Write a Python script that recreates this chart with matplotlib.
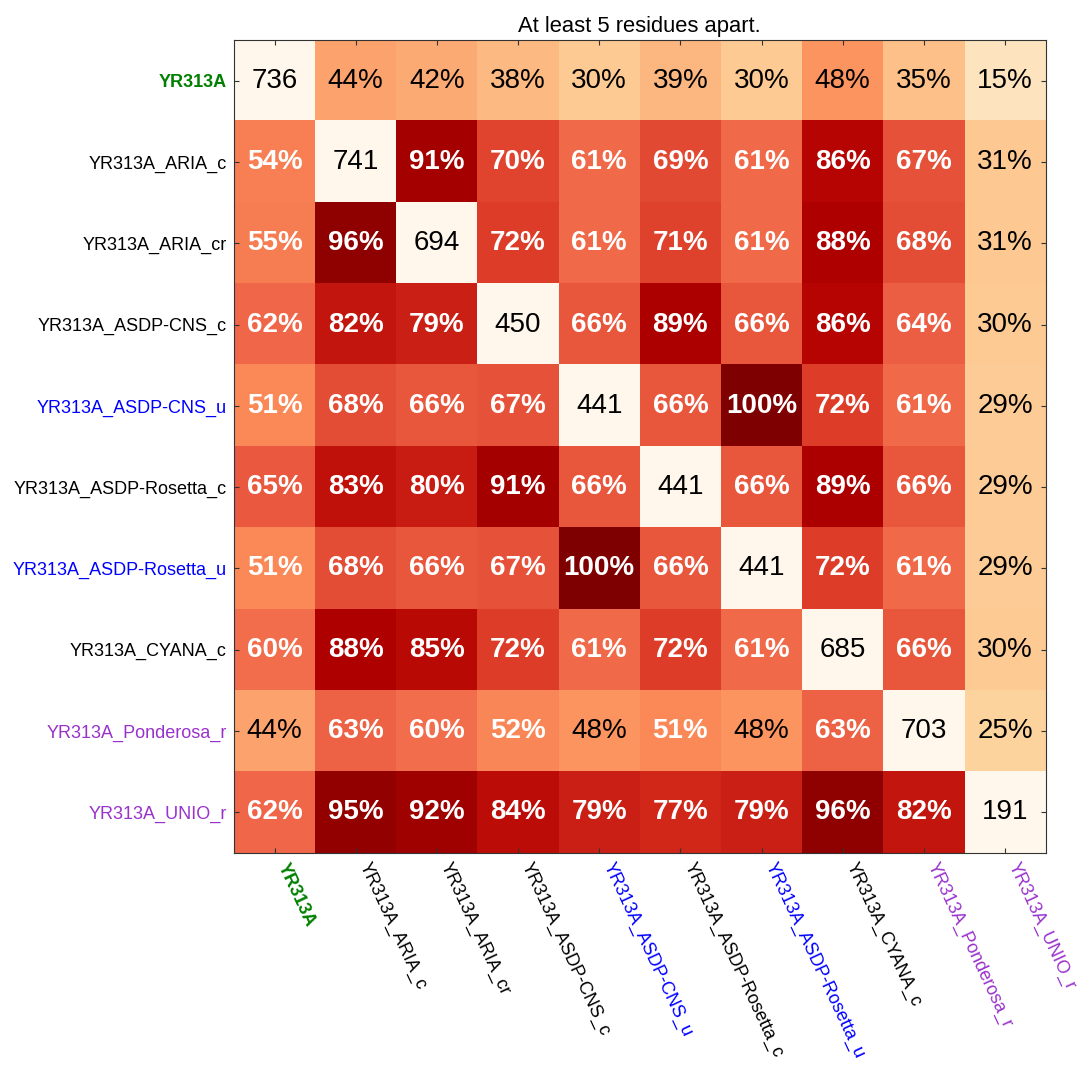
import matplotlib
matplotlib.use('Agg')
import matplotlib.pyplot as plt
import numpy as np

plt.rcParams['font.family'] = ['Liberation Sans', 'DejaVu Sans']

# Structures compared (rows and columns share the same order)
names = ['YR313A', 'YR313A_ARIA_c', 'YR313A_ARIA_cr', 'YR313A_ASDP-CNS_c',
         'YR313A_ASDP-CNS_u', 'YR313A_ASDP-Rosetta_c', 'YR313A_ASDP-Rosetta_u',
         'YR313A_CYANA_c', 'YR313A_Ponderosa_r', 'YR313A_UNIO_r']
name_colors = ['green', 'black', 'black', 'black', 'blue', 'black', 'blue',
               'black', 'darkorchid', 'darkorchid']

# Number of contacts per structure (diagonal)
counts = [736, 741, 694, 450, 441, 441, 441, 685, 703, 191]

# Percentage overlap, row vs column (diagonal unused)
overlap = np.array([
    [0, 44, 42, 38, 30, 39, 30, 48, 35, 15],
    [54, 0, 91, 70, 61, 69, 61, 86, 67, 31],
    [55, 96, 0, 72, 61, 71, 61, 88, 68, 31],
    [62, 82, 79, 0, 66, 89, 66, 86, 64, 30],
    [51, 68, 66, 67, 0, 66, 100, 72, 61, 29],
    [65, 83, 80, 91, 66, 0, 66, 89, 66, 29],
    [51, 68, 66, 67, 100, 66, 0, 72, 61, 29],
    [60, 88, 85, 72, 61, 72, 61, 0, 66, 30],
    [44, 63, 60, 52, 48, 51, 48, 63, 0, 25],
    [62, 95, 92, 84, 79, 77, 79, 96, 82, 0],
])

n = len(names)
fig = plt.figure(figsize=(10.78, 10.65), dpi=100)
ax = fig.add_axes([0.217, 0.199, 0.753, 0.7635])

ax.imshow(overlap, cmap='OrRd', vmin=0, vmax=100, interpolation='nearest',
          aspect='auto')

for i in range(n):
    for j in range(n):
        if i == j:
            ax.text(j, i, str(counts[i]), ha='center', va='center',
                    fontsize=20, color='black')
        else:
            v = overlap[i, j]
            white = v > 50
            ax.text(j, i, '%d%%' % v, ha='center', va='center', fontsize=20,
                    color='white' if white else 'black',
                    fontweight='bold' if white else 'normal')

ax.set_xticks(range(n))
ax.set_yticks(range(n))
ax.set_xticklabels(names, rotation=-65, ha='left', va='top', fontsize=13)
ax.set_yticklabels(names, fontsize=13)
for lbls in (ax.get_xticklabels(), ax.get_yticklabels()):
    for lbl, c in zip(lbls, name_colors):
        lbl.set_color(c)
        if c == 'green':
            lbl.set_fontweight('bold')

ax.tick_params(direction='in', top=True, right=True, length=3.5, pad=5,
               color='#333333')
for s in ax.spines.values():
    s.set_color('#333333')

ax.set_title('At least 5 residues apart.', fontsize=15.8)

fig.savefig('out.png', dpi=100, facecolor='white')
